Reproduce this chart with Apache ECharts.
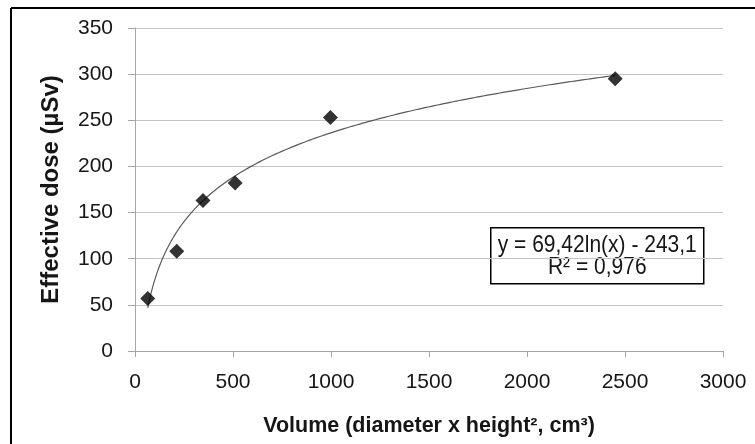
<!DOCTYPE html>
<html>
<head>
<meta charset="utf-8">
<script src="https://cdn.jsdelivr.net/npm/echarts@6/dist/echarts.min.js"></script>
<style>
  html, body { margin: 0; padding: 0; background: #fff; }
  #chart { width: 755px; height: 444px; }
</style>
</head>
<body>
<div id="chart"></div>
<script>
// Measured samples: volume (cm³) and effective dose (µSv)
const volumes = [65, 213, 347, 511, 997, 2450];
const doses = [57, 108, 163, 182, 253, 295];

// Logarithmic fit as printed in the equation box: y = a·ln(x) + b
const fitA = 69.42;
const fitB = -243.1;
const fitR2 = 0.976;

const xTicks = [0, 500, 1000, 1500, 2000, 2500, 3000];
const yTicks = [0, 50, 100, 150, 200, 250, 300, 350];

const xTitle = 'Volume (diameter x height², cm³)';
const yTitle = 'Effective dose (µSv)';

const fmt = v => v.toString().replace('.', ',');
const eqLine1 = 'y = ' + fmt(fitA) + 'ln(x) - ' + fmt(Math.abs(fitB));
const eqLine2 = 'R² = ' + fmt(fitR2);

// Trend curve sampled across the measured volume range
const xMin = volumes[0], xMax = volumes[volumes.length - 1];
const trend = [];
const steps = 300;
for (let i = 0; i <= steps; i++) {
  const x = xMin + (xMax - xMin) * i / steps;
  trend.push([x, fitA * Math.log(x) + fitB]);
}

const font = '"Liberation Sans", Arial, sans-serif';
const textColor = '#161616';
const chart = echarts.init(document.getElementById('chart'), null, { renderer: 'canvas' });

chart.setOption({
  animation: false,
  backgroundColor: '#ffffff',
  grid: { left: 135, right: 32, top: 28, bottom: 93, outerBoundsMode: 'none' },
  xAxis: {
    type: 'value',
    min: xTicks[0], max: xTicks[xTicks.length - 1], interval: 500,
    name: xTitle,
    nameLocation: 'middle',
    nameGap: 64,
    nameTextStyle: { fontFamily: font, fontSize: 21.5, fontWeight: 'bold', color: textColor },
    axisLine: { show: true, lineStyle: { color: '#a6a6a6', width: 1 } },
    axisTick: { show: true, length: 6, lineStyle: { color: '#a6a6a6' } },
    axisLabel: { fontFamily: font, fontSize: 21, color: textColor, margin: 21, formatter: v => String(v) },
    splitLine: { show: false }
  },
  yAxis: {
    type: 'value',
    min: yTicks[0], max: yTicks[yTicks.length - 1], interval: 50,
    name: yTitle,
    nameLocation: 'middle',
    nameGap: 72,
    nameRotate: 90,
    nameTextStyle: { fontFamily: font, fontSize: 24, fontWeight: 'bold', color: textColor },
    axisLine: { show: true, lineStyle: { color: '#a6a6a6', width: 1 } },
    axisTick: { show: true, length: 7, lineStyle: { color: '#a6a6a6' } },
    axisLabel: { fontFamily: font, fontSize: 21, color: textColor, margin: 22, formatter: v => String(v) },
    splitLine: { show: true, lineStyle: { color: '#c4c4c4', width: 1 } }
  },
  series: [
    {
      type: 'line',
      data: trend,
      showSymbol: false,
      smooth: false,
      lineStyle: { color: '#5a5a5a', width: 1.2 },
      z: 2
    },
    {
      type: 'scatter',
      data: volumes.map((v, i) => [v, doses[i]]),
      symbol: 'diamond',
      symbolSize: 15,
      itemStyle: { color: '#000' },
      z: 3
    }
  ],
  graphic: [
    // frame edges along the top and left
    { type: 'line', shape: { x1: 11, y1: 8, x2: 755, y2: 8 }, style: { stroke: '#000', lineWidth: 2 } },
    { type: 'line', shape: { x1: 11, y1: 8, x2: 11, y2: 444 }, style: { stroke: '#000', lineWidth: 2 } },
    // equation box
    {
      type: 'group', left: 490, top: 227, z: 10,
      children: [
        { type: 'rect', shape: { x: 0, y: 0, width: 213, height: 56 },
          style: { fill: '#fff', stroke: '#000', lineWidth: 1.5 } },
        { type: 'text', x: 106.5, y: 18, scaleY: 1.12, style: { text: eqLine1, font: '21px ' + font, fill: textColor, textAlign: 'center', textVerticalAlign: 'middle' } },
        { type: 'text', x: 106.5, y: 40, scaleY: 1.12, style: { text: eqLine2, font: '21px ' + font, fill: textColor, textAlign: 'center', textVerticalAlign: 'middle' } }
      ]
    }
  ]
});
</script>
</body>
</html>
